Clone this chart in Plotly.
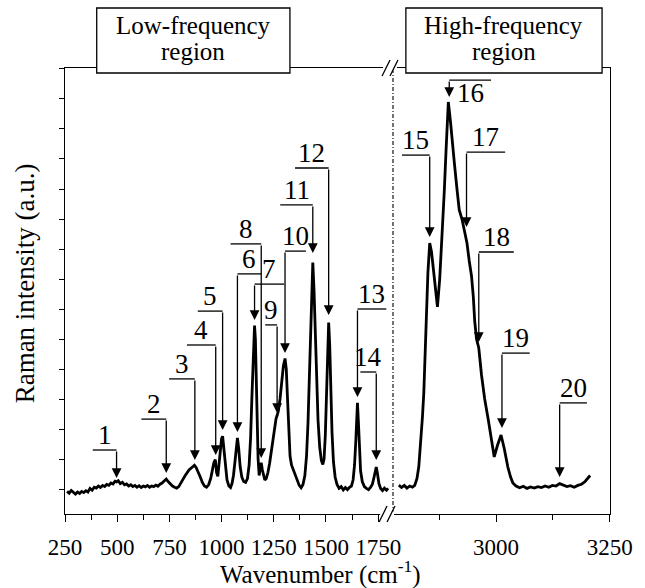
import plotly.graph_objects as go

# ---------------- data ----------------
low_wavenumber = [
    260, 270, 280, 290, 300, 310, 320, 330, 340, 350,
    360, 370, 380, 390, 400, 410, 420, 430, 440, 450,
    460, 470, 480, 490, 497, 505, 515, 525, 535, 545,
    555, 565, 575, 585, 595, 605, 615, 625, 635, 645,
    655, 665, 675, 685, 695, 705, 715, 725, 735, 745,
    755, 765, 775, 785, 795, 805, 815, 825, 835, 845,
    855, 863, 870, 878, 888, 898, 908, 918, 928, 938,
    948, 956, 963, 970, 976, 982, 988, 994, 1000, 1005,
    1011, 1018, 1026, 1035, 1043, 1050, 1057, 1064, 1070, 1076,
    1082, 1089, 1097, 1106, 1115, 1124, 1132, 1139, 1145, 1150,
    1154, 1158, 1162, 1166, 1170, 1175, 1180, 1185, 1190, 1195,
    1201, 1207, 1214, 1222, 1230, 1238, 1246, 1254, 1261, 1266,
    1272, 1280, 1288, 1296, 1304, 1310, 1316, 1322, 1328, 1335,
    1343, 1352, 1362, 1372, 1381, 1390, 1399, 1407, 1414, 1420,
    1426, 1431, 1437, 1443, 1449, 1455, 1462, 1470, 1478, 1485,
    1491, 1497, 1503, 1508, 1513, 1518, 1523, 1529, 1536, 1544,
    1553, 1563, 1573, 1583, 1593, 1603, 1613, 1622, 1630, 1637,
    1643, 1647, 1651, 1655, 1660, 1666, 1674, 1684, 1694, 1704,
    1714, 1722, 1729, 1735, 1741, 1747, 1754, 1762, 1771, 1780,
    1790, 1798,
]
low_intensity = [
    -0.08, -0.14, -0.05, -0.12, -0.17, -0.10, -0.15, -0.08, -0.12, -0.06,
    -0.10, 0.02, -0.04, 0.06, 0.03, 0.10, 0.05, 0.12, 0.08, 0.15,
    0.12, 0.20, 0.17, 0.26, 0.24, 0.28, 0.18, 0.22, 0.14, 0.17,
    0.10, 0.14, 0.08, 0.12, 0.06, 0.11, 0.05, 0.10, 0.07, 0.12,
    0.06, 0.10, 0.08, 0.13, 0.09, 0.16, 0.20, 0.27, 0.33, 0.24,
    0.15, 0.10, 0.06, 0.03, 0.08, 0.18, 0.32, 0.44, 0.56, 0.64,
    0.70, 0.76, 0.79, 0.72, 0.58, 0.40, 0.22, 0.10, 0.06, 0.14,
    0.35, 0.62, 0.88, 0.98, 0.55, 0.42, 0.80, 1.35, 1.68, 1.76,
    1.35, 0.75, 0.30, 0.10, 0.05, 0.18, 0.45, 0.90, 1.40, 1.70,
    1.35, 0.75, 0.40, 0.25, 0.22, 0.35, 0.80, 1.70, 3.00, 4.30,
    5.10, 5.45, 5.00, 3.80, 2.30, 1.00, 0.45, 0.70, 0.88, 0.65,
    0.40, 0.30, 0.35, 0.55, 0.85, 1.25, 1.70, 2.10, 2.35, 2.45,
    2.60, 3.00, 3.55, 4.10, 4.35, 4.00, 3.00, 1.80, 1.10, 0.80,
    0.65, 0.50, 0.30, 0.12, 0.04, 0.15, 0.45, 1.10, 2.20, 3.60,
    5.00, 6.40, 7.55, 6.60, 5.10, 3.60, 2.30, 1.40, 0.95, 0.82,
    1.00, 1.80, 3.20, 4.70, 5.55, 4.80, 3.30, 1.90, 0.90, 0.40,
    0.15, 0.02, 0.08, -0.03, 0.05, -0.02, 0.06, 0.10, 0.30, 0.80,
    1.60, 2.40, 2.87, 2.30, 1.30, 0.60, 0.25, 0.08, 0.02, -0.02,
    0.06, 0.15, 0.35, 0.60, 0.73, 0.50, 0.18, 0.02, -0.05, 0.03,
    -0.04, 0.02,
]
high_wavenumber = [
    2786, 2792, 2798, 2804, 2810, 2816, 2821, 2826, 2830, 2834,
    2838, 2841, 2844, 2847, 2850, 2854, 2858, 2863, 2867, 2871,
    2876, 2882, 2886, 2890, 2895, 2900, 2904, 2908, 2914, 2919,
    2925, 2930, 2936, 2941, 2946, 2950, 2953, 2957, 2962, 2968,
    2975, 2983, 2990, 2996, 3003, 3011, 3018, 3026, 3032, 3037,
    3044, 3052, 3060, 3068, 3076, 3084, 3092, 3100, 3108, 3116,
    3124, 3132, 3140, 3148, 3156, 3164, 3172, 3180, 3188, 3196,
    3202, 3207,
]
high_intensity = [
    0.13, 0.05, 0.12, 0.03, 0.10, 0.06, 0.12, 0.35, 0.75, 1.50,
    2.40, 3.20, 4.50, 5.97, 7.20, 8.20, 7.90, 7.20, 6.50, 6.07,
    7.00, 8.60, 9.90, 11.30, 12.90, 12.20, 11.40, 10.90, 10.00, 9.30,
    9.00, 8.60, 8.20, 7.60, 7.10, 6.40, 5.60, 5.00, 4.70, 3.80,
    3.00, 2.30, 1.60, 1.07, 1.45, 1.80, 1.35, 0.73, 0.40, 0.20,
    0.10, 0.04, 0.09, 0.02, 0.07, 0.03, 0.08, 0.05, 0.10, 0.06,
    0.12, 0.10, 0.18, 0.12, 0.08, 0.11, 0.06, 0.12, 0.16, 0.25,
    0.35, 0.45,
]

low_tick_values = [250, 500, 750, 1000, 1250, 1500, 1750]
high_tick_values = [3000, 3250]
high_minor_values = [2875, 3125]
region_titles = [["Low-frequency", "region"], ["High-frequency", "region"]]

band_labels = [str(i) for i in range(1, 21)]
band_wavenumber = [497, 735, 872, 972, 1005, 1076, 1158, 1190, 1266, 1304,
                   1437, 1513, 1651, 1741, 2854, 2897, 2935, 2962, 3013, 3140]
band_arrow_tip = [0.37, 0.53, 0.97, 1.13, 1.97, 1.90, 5.63, 1.03, 2.53, 4.53,
                  7.87, 5.80, 3.07, 0.97, 8.40, 13.07, 8.73, 4.90, 2.03, 0.40]

# callout layout: elbow height of each leader and the far end of its horizontal part
leader_height = [1.30, 2.33, 3.67, 4.80, 5.93, 7.17, 6.83, 8.17, 5.47, 7.93,
                 9.47, 10.70, 6.00, 3.90, 11.13, 13.63, 11.23, 7.90, 4.53, 2.87]
leader_far_end = [383, 616, 749, 834, 886, 1190, 1300, 1043, 1209, 1404,
                  1281, 1352, 1789, 1665, 2793, 2989, 3020, 3039, 3074, 3200]
label_shift = [15] * 15 + [-13] + [15] * 4

# ---------------- figure ----------------
W, H = 645, 588
L, R, T, B = 65, 615, 68, 514
SPLIT = 395
FONT = "Liberation Serif, Times New Roman, serif"


def px(xp):
    return (xp - L) / (R - L)


def py(yp):
    return (B - yp) / (B - T)


y_range = [-0.833, 14.033]
split = px(SPLIT)

fig = go.Figure()
fig.add_trace(go.Scatter(x=low_wavenumber, y=low_intensity, mode="lines",
                         line=dict(color="black", width=2.8), xaxis="x", yaxis="y",
                         showlegend=False, hoverinfo="skip"))
fig.add_trace(go.Scatter(x=high_wavenumber, y=high_intensity, mode="lines",
                         line=dict(color="black", width=2.8), xaxis="x2", yaxis="y2",
                         showlegend=False, hoverinfo="skip"))

axis_common = dict(showgrid=False, zeroline=False, linecolor="black", linewidth=1.3,
                   tickcolor="black", tickwidth=1.3,
                   tickfont=dict(family=FONT, size=23, color="black"))

fig.update_layout(
    width=W, height=H,
    margin=dict(l=L, r=W - R, t=T, b=H - B),
    paper_bgcolor="white", plot_bgcolor="white",
    xaxis=dict(domain=[0, split], range=[250, 1816.4], anchor="y",
               tickmode="array", tickvals=low_tick_values, ticks="outside", ticklen=7,
               showline=True, mirror=True, ticklabelstandoff=5,
               minor=dict(dtick=125, tick0=250, ticks="outside", ticklen=5,
                          tickcolor="black", tickwidth=1.3),
               **axis_common),
    xaxis2=dict(domain=[split, 1], range=[2771, 3250.8], anchor="y2",
                tickmode="array", tickvals=high_tick_values, ticks="outside", ticklen=7,
                showline=True, mirror=True, ticklabelstandoff=5,
                minor=dict(tickmode="array", tickvals=high_minor_values, ticks="outside",
                           ticklen=5, tickcolor="black", tickwidth=1.3),
                **axis_common),
    yaxis=dict(domain=[0, 1], range=y_range, anchor="x", showline=True,
               ticks="outside", ticklen=5, tickmode="linear", tick0=0, dtick=1,
               showticklabels=False, **axis_common),
    yaxis2=dict(domain=[0, 1], range=y_range, anchor="x2", side="right",
                showline=True, ticks="", showticklabels=False, **axis_common),
)

shapes = []
annotations = []

# callouts
for lab, wn, tip, h, far, sh in zip(band_labels, band_wavenumber, band_arrow_tip,
                                     leader_height, leader_far_end, label_shift):
    xr, yr = ("x", "y") if wn < 2000 else ("x2", "y2")
    shapes.append(dict(type="line", xref=xr, yref=yr, x0=far, x1=wn, y0=h, y1=h,
                       line=dict(color="black", width=1.3), layer="above"))
    annotations.append(dict(x=wn, y=tip, ax=wn, ay=h, xref=xr, yref=yr,
                            axref=xr, ayref=yr, text="", showarrow=True,
                            arrowhead=2, arrowsize=1.5, arrowwidth=1.3,
                            arrowcolor="black", standoff=0, startstandoff=0))
    annotations.append(dict(x=(wn + far) / 2, y=h, xref=xr, yref=yr, text=lab,
                            showarrow=False, yanchor="middle", xanchor="center",
                            yshift=sh, font=dict(family=FONT, size=27, color="black")))

# region boxes
for (x0, x1), lines in zip([(97, 292), (409, 607)], region_titles):
    shapes.append(dict(type="rect", xref="paper", yref="paper",
                       x0=px(x0), x1=px(x1), y0=py(73), y1=py(8),
                       line=dict(color="black", width=1.3), fillcolor="white",
                       layer="above"))
    for txt, yc in zip(lines, [26, 52]):
        annotations.append(dict(x=px((x0 + x1) / 2), y=py(yc), xref="paper", yref="paper",
                                text=txt, showarrow=False, xanchor="center",
                                yanchor="middle",
                                font=dict(family=FONT, size=25, color="black")))

# boundary between regions (dash-dot)
shapes.append(dict(type="line", xref="paper", yref="paper", x0=px(396), x1=px(396),
                   y0=0, y1=1, line=dict(color="black", width=1.1, dash="4px,2px,1px,2px"),
                   layer="above"))

# axis break marks
for yc, xs in [(B, (386, 394)), (T, (389, 397))]:
    shapes.append(dict(type="rect", xref="paper", yref="paper",
                       x0=px(xs[0] - 3), x1=px(xs[1] + 3), y0=py(yc + 2.5), y1=py(yc - 2.5),
                       line=dict(width=0), fillcolor="white", layer="above"))
    for xc in xs:
        shapes.append(dict(type="line", xref="paper", yref="paper",
                           x0=px(xc - 4), x1=px(xc + 4), y0=py(yc + 8), y1=py(yc - 8),
                           line=dict(color="black", width=1.3), layer="above"))

# axis titles
annotations.append(dict(x=px(323), y=py(572), xref="paper", yref="paper",
                        text="Wavenumber (cm<sup>-1</sup>)", showarrow=False,
                        xanchor="center", yanchor="middle",
                        font=dict(family=FONT, size=25, color="black")))
annotations.append(dict(x=px(25), y=py(283), xref="paper", yref="paper",
                        text="Raman intensity (a.u.)", showarrow=False, textangle=-90,
                        xanchor="center", yanchor="middle",
                        font=dict(family=FONT, size=27, color="black")))

fig.update_layout(shapes=shapes, annotations=annotations)
fig.write_html("out.html")
